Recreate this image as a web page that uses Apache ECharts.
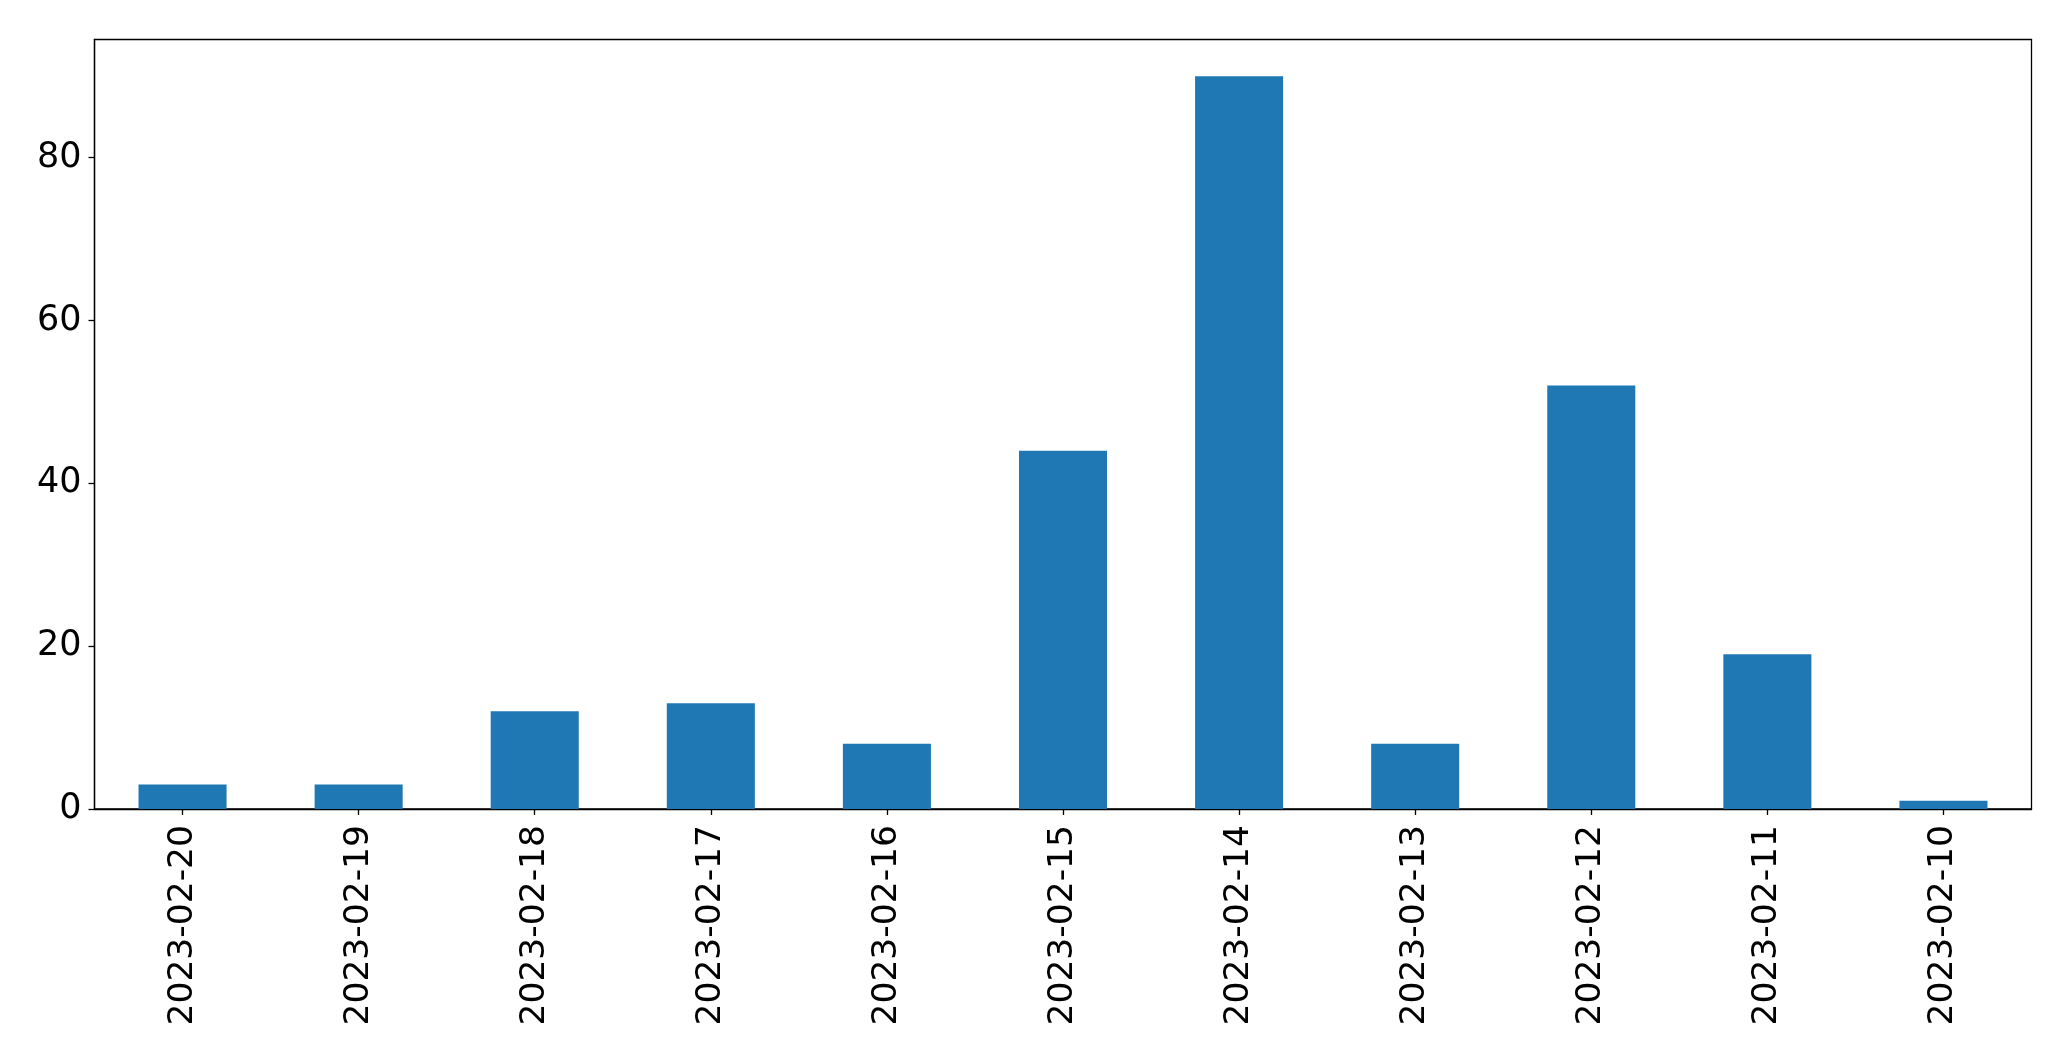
<!DOCTYPE html>
<html><head><meta charset="utf-8">
<script src="https://cdn.jsdelivr.net/npm/echarts@6/dist/echarts.min.js"></script>
<style>html,body{margin:0;padding:0;background:#fff}#c{width:2071px;height:1061px}</style>
</head><body><div id="c"></div>
<script>
const categories = ["2023-02-20","2023-02-19","2023-02-18","2023-02-17","2023-02-16","2023-02-15","2023-02-14","2023-02-13","2023-02-12","2023-02-11","2023-02-10"];
const values = [3,3,12,13,8,44,90,8,52,19,1];
const yTicks = [0,20,40,60,80];

const chart = echarts.init(document.getElementById('c'), null, {renderer:'canvas'});
const font = 'DejaVu Sans';
chart.setOption({
  animation:false,
  backgroundColor:'#fff',
  grid:{left:94.5,right:39.5,top:39.5,bottom:252,show:true,borderColor:'#000',borderWidth:1.3,backgroundColor:'transparent'},
  xAxis:{
    type:'category', data:categories,
    axisLine:{show:true,lineStyle:{color:'#000',width:1.3}},
    axisTick:{show:true,alignWithLabel:true,length:6,lineStyle:{color:'#000',width:1.3}},
    axisLabel:{rotate:90,margin:16,color:'#000',fontFamily:font,fontSize:34.5,interval:0},
    splitLine:{show:false}
  },
  yAxis:{
    type:'value', min:0, max:94.5, interval:20,
    axisLine:{show:true,lineStyle:{color:'#000',width:1.3}},
    axisTick:{show:true,length:6,customValues:yTicks,lineStyle:{color:'#000',width:1.3}},
    axisLabel:{margin:13,color:'#000',fontFamily:font,fontSize:35,customValues:yTicks},
    splitLine:{show:false}
  },
  series:[{type:'bar',data:values,barCategoryGap:'50%',itemStyle:{color:'#1f77b4'}}]
});
</script></body></html>
